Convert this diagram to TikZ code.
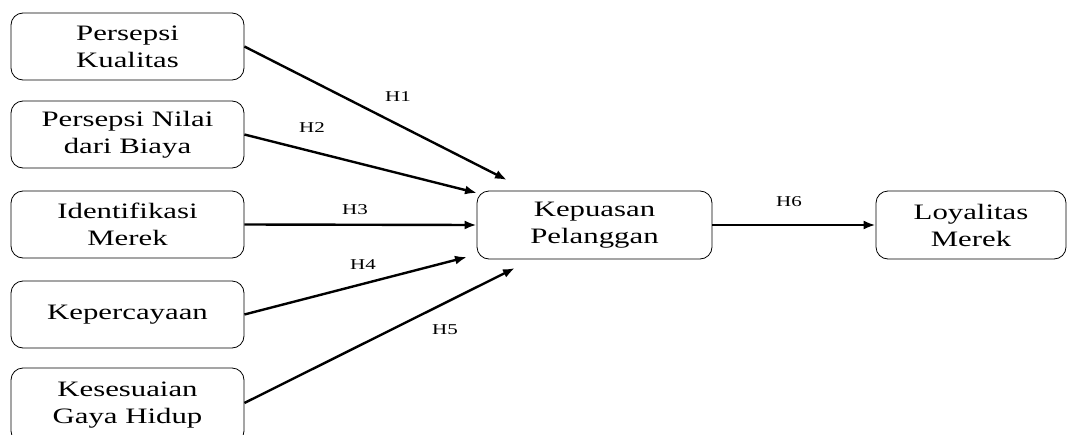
\documentclass[tikz,border=0pt]{standalone}
\usepackage{fontspec}
\setmainfont{Liberation Serif}[FakeStretch=1.4]
\usetikzlibrary{arrows.meta}
\begin{document}
\begin{tikzpicture}[x=1pt,y=-1pt,
  box/.style={draw, line width=0.8pt, rounded corners=12pt, minimum width=233pt, minimum height=67pt,
    align=center, inner sep=0pt, font=\fontsize{22}{27}\selectfont},
  arr/.style={line width=2.4pt, -{Latex[length=12pt,width=9pt]}},
  lab/.style={font=\fontsize{15}{18}\selectfont, inner sep=0pt}]
\useasboundingbox (0,0) rectangle (1068,434);
\clip (0,0) rectangle (1068,434);
\node[box] (b1) at (127.5,46.5) {Persepsi\\Kualitas};
\node[box] (b2) at (127.5,134.5) {Persepsi Nilai\\dari Biaya};
\node[box] (b3) at (127.5,224.5) {Identifikasi\\Merek};
\node[box] (b4) at (127.5,314.5) {Kepercayaan};
\node[box, minimum height=75pt] (b5) at (127.5,405.5) {Kesesuaian\\Gaya Hidup};
\node[box, minimum width=235pt, minimum height=68pt] (k) at (594.5,225) {Kepuasan\\Pelanggan};
\node[box, minimum width=190pt, minimum height=68pt] (l) at (971,225) {Loyalitas\\Merek};
\coordinate (t1) at (507,180);
\coordinate (t2) at (477,193);
\coordinate (t4) at (467,257);
\coordinate (t5) at (515,268);
\draw[arr] (b1.east) -- (t1);
\draw[arr] (b2.east) -- (t2);
\draw[arr] (b3.east) -- (k.west);
\draw[arr] (b4.east) -- (t4);
\draw[arr] (b5.east |- 0,403) -- (t5);
\draw[arr] (k.east) -- (l.west);
\node[lab] (h1) at (398,97) {H1};
\node[lab] (h2) at (312,128) {H2};
\node[lab] (h3) at (355,210) {H3};
\node[lab] (h4) at (363,265) {H4};
\node[lab] (h5) at (445,330) {H5};
\node[lab] (h6) at (789,202) {H6};
\end{tikzpicture}
\end{document}
